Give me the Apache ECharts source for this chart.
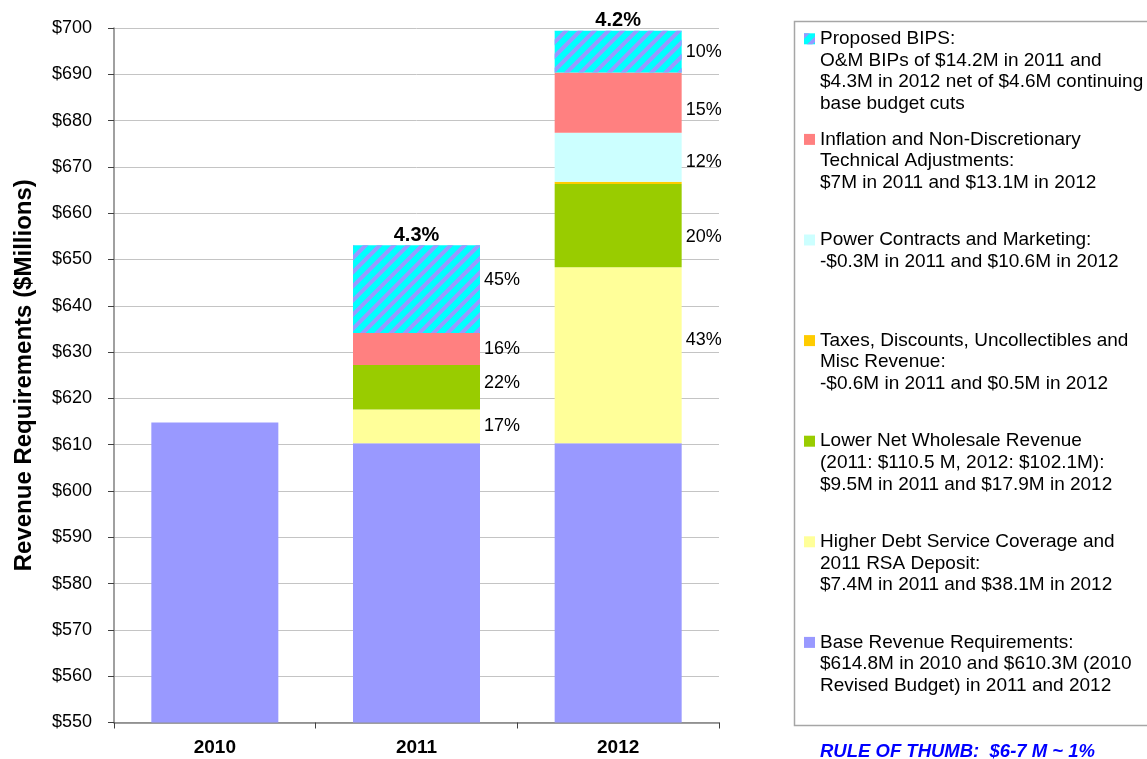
<!DOCTYPE html>
<html>
<head>
<meta charset="utf-8">
<title>Revenue Requirements</title>
<script src="https://cdn.jsdelivr.net/npm/echarts@6/dist/echarts.min.js"></script>
<style>html,body{margin:0;padding:0;background:#fff;}</style>
</head>
<body>
<div id="main" style="width:1147px;height:759px;"></div>
<script type="text/javascript">
// values ($ millions)
var years = ['2010', '2011', '2012'];
var baseRevenue = [614.8, 610.3, 610.3];
var debtService = [null, 7.3, 38.0];
var wholesale = [null, 9.6, 18.0];
var taxesMisc = [null, null, 0.5];
var powerContracts = [null, null, 10.6];
var inflation = [null, 6.9, 13.0];
var proposedBips = [null, 19.0, 9.0];

// share of the increase, written next to each piece
var debtShare = ['', '17%', '43%'];
var wholesaleShare = ['', '22%', '20%'];
var taxesShare = ['', '', ''];
var powerShare = ['', '', '12%'];
var inflationShare = ['', '16%', '15%'];
var bipsShare = ['', '45%', '10%'];
var growthLabels = ['', '4.3%', '4.2%'];

var legendLines = {
  'Proposed BIPS': ['Proposed BIPS:', 'O&M BIPs of $14.2M in 2011 and', '$4.3M in 2012 net of $4.6M continuing', 'base budget cuts'],
  'Inflation': ['Inflation and Non-Discretionary', 'Technical Adjustments:', '$7M in 2011 and $13.1M in 2012'],
  'Power Contracts': ['Power Contracts and Marketing:', '-$0.3M in 2011 and $10.6M in 2012'],
  'Taxes': ['Taxes, Discounts, Uncollectibles and', 'Misc Revenue:', '-$0.6M in 2011 and $0.5M in 2012'],
  'Wholesale': ['Lower Net Wholesale Revenue', '(2011: $110.5 M, 2012: $102.1M):', '$9.5M in 2011 and $17.9M in 2012'],
  'Debt Service': ['Higher Debt Service Coverage and', '2011 RSA Deposit:', '$7.4M in 2011 and $38.1M in 2012'],
  'Base': ['Base Revenue Requirements:', '$614.8M in 2010 and $610.3M (2010', 'Revised Budget) in 2011 and 2012']
};

// small vertical nudges for the % labels (px), like the hand-placed ones
var nudgeDebt = [0, 0, -15];
var nudgeWholesale = [0, -4, 11];
var nudgePower = [0, 0, 5];
var nudgeInflation = [0, 0, 7];
var nudgeBips = [0, -9, 0];
var noNudge = [0, 0, 0];

var FONT = 'Liberation Sans, Arial, sans-serif';
var LH = 21.6;

function withNudge(values, nudge) {
  return values.map(function (v, i) {
    return { value: v, label: { offset: [0, nudge[i]] } };
  });
}

function piece(name, values, color, shares, nudge, decal) {
  var s = {
    name: name,
    type: 'bar',
    stack: 'rev',
    barWidth: 127,
    data: withNudge(values, nudge),
    itemStyle: { color: color },
    label: {
      show: true,
      position: 'right',
      distance: 4,
      fontFamily: FONT,
      fontSize: 18,
      color: '#000',
      formatter: function (p) { return shares[p.dataIndex]; }
    },
    emphasis: { disabled: true }
  };
  if (decal) s.itemStyle.decal = decal;
  return s;
}

var myChart = echarts.init(document.getElementById('main'));

var option = {
  animation: false,
  backgroundColor: '#fff',
  grid: { left: 114, right: 428, top: 28, bottom: 36.5, outerBoundsMode: 'none' },
  legend: {
    orient: 'vertical',
    left: 804,
    top: -36.8,
    height: 3000,
    padding: 0,
    itemWidth: 11,
    itemHeight: 11,
    itemGap: -50.6,
    itemTextGap: 6,
    icon: 'rect',
    selectedMode: false,
    data: ['Proposed BIPS', 'Inflation', 'Power Contracts', 'Taxes', 'Wholesale', 'Debt Service', 'Base'],
    textStyle: { fontFamily: FONT, fontSize: 19, lineHeight: LH, color: '#000' },
    formatter: function (name) {
      // first text line sits level with the marker
      var lines = legendLines[name].slice();
      while (lines.length < 4) lines.push('');
      return ['', '', ''].concat(lines).join('\n');
    }
  },
  xAxis: {
    type: 'category',
    data: years,
    axisLine: { lineStyle: { color: '#808080', width: 1.5 } },
    axisTick: { show: true, length: 6, lineStyle: { color: '#404040' } },
    axisLabel: { fontFamily: FONT, fontSize: 19, fontWeight: 'bold', color: '#000', margin: 16 }
  },
  yAxis: {
    type: 'value',
    min: 550,
    max: 700,
    interval: 10,
    name: 'Revenue Requirements ($Millions)',
    nameLocation: 'middle',
    nameGap: 78,
    nameTextStyle: { fontFamily: FONT, fontSize: 24, fontWeight: 'bold', color: '#000' },
    axisLine: { show: true, lineStyle: { color: '#808080', width: 1.5 } },
    axisTick: { show: true, length: 6, lineStyle: { color: '#404040' } },
    axisLabel: {
      fontFamily: FONT, fontSize: 18, color: '#000', margin: 22,
      formatter: function (v) { return '$' + v; }
    },
    splitLine: { lineStyle: { color: '#c4c4c4', width: 1 } }
  },
  series: [
    piece('Base', baseRevenue, '#9999ff', ['', '', ''], noNudge),
    piece('Debt Service', debtService, '#ffff99', debtShare, nudgeDebt),
    piece('Wholesale', wholesale, '#99cc00', wholesaleShare, nudgeWholesale),
    piece('Taxes', taxesMisc, '#ffcc00', taxesShare, noNudge),
    piece('Power Contracts', powerContracts, '#ccffff', powerShare, nudgePower),
    piece('Inflation', inflation, '#ff8080', inflationShare, nudgeInflation),
    piece('Proposed BIPS', proposedBips, '#00ffff', bipsShare, nudgeBips, {
      symbol: 'rect',
      symbolSize: 1,
      color: '#9999ff',
      dashArrayX: [1, 0],
      dashArrayY: [4, 6],
      rotation: -Math.PI / 4
    }),
    {
      name: 'growth',
      type: 'bar',
      stack: 'rev',
      barWidth: 127,
      data: growthLabels.map(function (t) { return t ? 0 : null; }),
      itemStyle: { color: 'transparent' },
      label: {
        show: true,
        position: 'top',
        distance: 0,
        fontFamily: FONT,
        fontSize: 20,
        fontWeight: 'bold',
        color: '#000',
        formatter: function (p) { return growthLabels[p.dataIndex]; }
      },
      emphasis: { disabled: true }
    }
  ],
  graphic: [
    {
      type: 'rect',
      left: 792,
      top: 19,
      shape: { width: 400, height: 704 },
      style: { fill: 'none', stroke: '#a6a6a6', lineWidth: 1.5 },
      silent: true
    },
    {
      type: 'text',
      left: 820,
      top: 742,
      style: {
        text: 'RULE OF THUMB:  $6-7 M ~ 1%',
        fontFamily: FONT,
        fontSize: 18.5,
        fontWeight: 'bold',
        fontStyle: 'italic',
        fill: '#0000ff'
      }
    }
  ]
};

myChart.setOption(option);
</script>
</body>
</html>
